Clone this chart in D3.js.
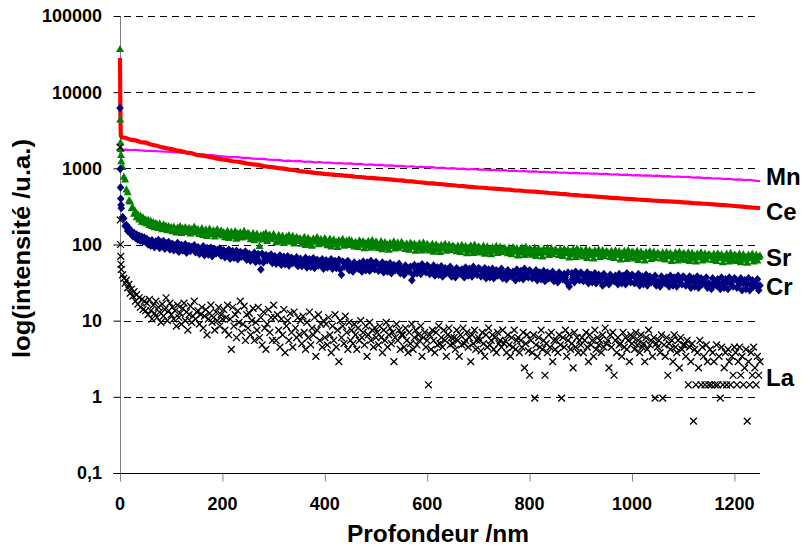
<!DOCTYPE html>
<html><head><meta charset="utf-8">
<script src="https://cdn.jsdelivr.net/npm/d3@7"></script>
<style>
body{margin:0;background:#fff}
text{font-family:"Liberation Sans",Arial,sans-serif;font-weight:bold;fill:#000}
</style>
</head><body>
<svg id="chart" width="804" height="550"></svg>
<script>
// ---------- data ----------
const lineHeadDepths = [0,0.5,1,1.5,2,2.5,3,3.5,4,4.5];
const markerHeadDepths = [0,0.5,1,1.5,2];
const lineStep = 10;     // nm, Mn / Ce body
const markerStep = 2.5;  // nm, Sr / Cr / La body

const mnHead = [1500,1560,1620,1660,1690,1710,1720,1730,1740,1745];
const mnBody = [
1760,1740,1750,1720,1700,1700,1680,1670,1650,1640,
1620,1610,1580,1570,1540,1530,1500,1490,1460,1440,
1420,1400,1400,1370,1370,1340,1330,1330,1300,1290,
1290,1255,1265,1240,1250,1215,1230,1200,1210,1185,
1190,1165,1175,1150,1160,1135,1145,1115,1125,1100,
1110,1085,1095,1070,1080,1055,1065,1040,1050,1030,
1035,1010,1020,995,1005,985,990,970,980,960,
965,950,955,940,945,925,935,915,920,905,
910,895,900,885,890,875,880,865,870,860,
862,850,855,840,845,830,835,820,825,810,
815,800,808,795,800,785,790,775,780,770,
772,755,762,745,750,735,740,725,730,712,
718,700,708,690,680];

const ceHead = [28000,9000,4000,2800,2650,2620,2600,2580,2560,2540];
const ceBody = [
2520,2380,2330,2210,2180,2060,1990,1910,1840,1790,
1720,1680,1610,1580,1500,1470,1430,1390,1340,1310,
1280,1240,1220,1190,1150,1130,1110,1070,1050,1030,
1005,990,960,950,920,905,890,870,860,845,
835,820,815,800,790,775,770,755,750,740,
730,720,712,700,695,680,675,662,652,640,
635,624,618,606,600,590,585,575,568,560,
556,548,542,536,528,524,515,512,504,498,
494,486,482,474,470,462,458,450,446,440,
436,430,425,420,415,410,406,402,398,394,
390,386,383,378,375,372,368,365,362,358,
355,350,347,343,340,336,332,328,325,320,
316,312,308,304,300];

const srHead = [37000,4400,2200,1800,1500];
const srBody = [
1250,1050,780,720,530,490,380,370,300,305,255,275,230,250,215,240,200,228,195,215,
190,212,182,205,176,198,170,192,185,166,190,172,160,184,168,178,155,175,162,170,
150,172,160,145,168,155,175,142,163,150,170,147,158,166,140,161,153,172,145,157,
160,138,152,165,134,148,158,130,150,162,137,145,155,128,149,160,136,143,154,132,
146,125,140,152,122,137,148,128,133,150,120,141,130,146,124,138,151,127,135,143,
137,118,131,142,114,128,139,121,96,133,117,136,124,143,112,129,135,119,127,138,
128,108,124,134,111,120,131,105,118,127,113,133,109,122,130,104,119,126,112,121,
120,103,116,126,99,112,123,106,114,97,121,109,117,125,101,113,119,104,110,122,
114,98,111,120,95,107,117,101,109,93,115,104,112,119,97,106,113,99,116,102,
113,104,95,109,102,93,114,108,100,111,90,105,97,112,103,91,115,106,94,110,
105,90,102,111,87,99,108,93,101,86,106,96,104,110,89,98,107,91,100,109,
101,97,88,104,95,86,106,100,93,103,83,98,90,105,96,84,107,99,87,102,
98,84,95,103,81,92,101,87,94,80,99,89,96,102,83,91,100,85,93,97,
94,90,82,97,88,80,99,93,86,96,77,91,84,98,89,78,100,92,81,95,
92,79,89,97,76,86,95,81,88,75,93,83,90,96,78,85,94,80,87,91,
88,84,77,91,82,75,93,87,81,90,72,85,79,92,83,73,94,86,76,89,
87,74,84,91,71,81,89,77,83,70,88,79,85,90,73,80,89,75,82,86,
84,80,73,87,78,71,88,83,77,86,68,81,75,87,79,69,89,82,72,85,
83,70,80,87,67,77,85,73,79,66,84,75,81,86,69,76,85,71,78,82,
80,76,69,83,74,67,84,79,73,82,64,77,71,83,75,65,85,78,68,81,
79,66,76,83,63,73,81,69,75,62,80,71,77,82,65,72,81,67,74,78,
76,72,66,79,71,64,80,75,70,78,61,73,68,79,72,62,81,74,65,77,
76,63,73,79,61,70,78,66,72,60,77,68,74,79,62,69,77,64,71,75,
73,70,63,76,68,61,77,72,67,75,59,70,65,76,69,60,78,71,62,74,
73,61,70,76,59,68,75,64,69,58,74,66,71,76,60,67,74,62,69,72];

const crHead = [6200,980,560,400,330];
const crBody = [
300,230,220,175,180,150,165,140,150,128,142,122,135,115,130,112,127,110,124,108,
118,100,112,96,114,103,92,110,99,115,90,107,97,111,88,104,95,108,86,100,
102,84,97,89,105,80,94,99,83,92,101,78,90,96,82,93,88,98,79,87,
92,75,86,80,95,72,84,90,74,83,91,70,81,87,76,85,79,89,71,78,
84,68,78,73,86,65,76,82,67,75,83,64,74,80,69,77,71,81,63,72,
76,61,71,66,78,59,69,75,60,47,76,58,67,73,62,70,64,74,57,65,
70,56,65,61,72,54,63,69,55,62,70,53,61,67,57,64,59,68,52,60,
65,52,61,57,67,50,59,64,51,58,66,49,57,63,53,60,55,64,48,56,
62,50,58,54,64,48,56,61,49,55,63,47,40,60,51,57,52,61,46,53,
50,44,58,50,54,48,57,51,44,60,52,46,58,53,45,61,51,55,47,59,
56,45,53,49,58,43,51,55,44,50,57,42,49,54,46,52,47,56,42,48,
46,40,53,45,49,44,51,34,40,54,47,42,52,48,41,55,46,50,43,53,
51,41,48,44,53,39,46,50,40,45,52,38,45,49,42,47,43,51,38,44,
42,37,49,42,45,41,47,43,37,50,44,39,48,44,38,51,43,46,40,49,
48,38,45,41,49,36,43,47,37,42,48,36,42,46,39,44,40,48,36,41,
40,35,46,39,42,38,44,40,34,47,41,36,45,41,35,48,40,43,37,46,
44,36,41,38,46,34,40,43,35,39,45,33,38,43,36,41,37,44,33,38,
37,32,43,36,39,35,41,37,32,43,28,33,42,38,32,44,37,40,34,43,
41,33,38,36,43,31,37,40,32,36,42,31,36,40,34,38,29,41,31,35,
34,30,40,34,37,33,39,35,30,41,35,31,39,36,30,42,35,37,32,40,
39,31,36,34,41,29,35,38,30,34,40,29,34,38,32,36,33,39,29,33,
32,28,38,32,35,31,37,33,28,39,33,29,37,34,28,39,33,35,30,38,
37,29,34,32,38,27,33,36,28,32,38,27,32,36,30,34,31,37,27,31,
30,26,36,30,33,29,35,31,26,37,31,27,35,32,26,37,31,33,28,36,
35,27,32,30,36,25,31,34,26,30,36,25,30,34,28,32,29,35,25,29];

const laHead = [1900,210,100,70,55];
const laBody = [
47,40,36,31,34,27,30,23,26,21,24,18,22,16.5,20,15,19,14,18,13.5,
17,12,19,13.5,10.5,16,12.5,18,11,15,13,9.5,16.5,11.5,14,20,10,13.5,17,12,
15,10.5,13.5,8.5,16,11,12.5,9,14.5,17,10,13,7.5,12,15.5,9.5,11.5,18,10.5,13,
13.5,9,12,15,8,11.5,14,6.5,10.5,12.5,16,9.5,11,7.5,13,10,15,8.5,12,10.5,
14,7.5,11,16,6.5,10.5,4.2,15,8.5,12,6,13.5,9.5,18,7,9,15.5,5.5,12,8,
12.5,6.5,10,14.5,5.5,9.5,7.5,15,6,11,4.8,13,8,4.2,9,14,7,11,5.5,16,
11,5.5,12,7.5,4.5,10.5,6.5,14,3.8,8.5,10,5.5,12.5,7,4.5,13,8,6,11,6.5,
10,5,11.5,7,4.2,9.5,6,13,4.8,8,6.5,11,3.4,7.5,12,5.5,9,4.5,10,6,
9,4.8,11,6.5,3.8,8.5,5.5,12,4.5,7.5,2.9,10,6,8.5,5,11.5,7,4.2,9.5,5.5,
7.5,5,9,6.5,4.2,8,5.5,10,6,7,4.8,8.5,3.4,6.5,9.5,5.5,7.5,4.5,8,6,
7,4.8,8.5,6,3.8,7.5,5.5,9.5,4.5,6.5,8,5,7,2.9,6,9,5.5,7.5,4.2,6.5,
6.5,4.5,8,5.5,3.8,7,5,9,4.2,6,7.5,4.8,6.5,5.5,8.5,3.4,6,7,4.5,5.5,
1.44,6.5,4.2,7.5,5.5,3.8,7,4.8,8.5,5,6,4.5,7.5,5.5,3.4,6.5,8,4.8,6,5,
6,4.2,7.5,5.5,3.4,6.5,4.8,8,5,5.5,7,4.5,6,2.9,6.5,5,7.5,4.2,5.5,6,
5.5,4,7,5,3.4,6.5,4.5,8,4.8,5.5,6.5,4.2,6,3.8,7,5,5.5,4.5,7.5,5,
5.5,3.8,6.5,4.8,3.4,6,4.5,7.5,4.2,5.5,6,3.8,5.5,4.5,7,2.4,5,6.5,4,1.92,
5.5,3.8,6.5,0.96,4.8,3.4,6,4.5,7.5,4.2,5.5,1.92,5,3.8,6.5,4.5,7,2.9,5.5,4.2,
5.5,3.8,6.5,4.8,0.96,6,4.5,7.5,3.4,5.5,6.5,4.2,5,2.4,7,4.5,6,3.8,5.5,4.8,
6,3.8,5.5,7,4.5,2.9,6.5,4.8,5.5,3.4,7.5,4.2,6,4.8,5.5,3.8,6.5,4.5,8,5,
5.5,2.4,6.5,4.5,7,1.92,5.5,3.8,6,4.8,5,3.4,7,4.5,6,4.2,5.5,2.9,6.5,5,
6,4.2,7,4.8,5.5,3.8,6.5,4.5,5,2.9,6,4.2,7.5,4.8,5.5,3.4,6,0.96,5,4.5,
5.5,3.8,6.5,0.96,4.8,3.4,6,1.92,5,4.2,5.5,2.9,6.5,4.5,3.8,5.5,2.4,6,4.2,4.8,
4.8,3.4,5.5,1.44,4.5,2.9,5,0.48,4.2,1.44,3.8,2.4,5.5,1.44,4.5,3.4,1.44,4.8,2.9,1.44,
4.2,1.44,3.8,2.9,1.44,4.8,1.44,3.4,0.96,4.5,1.44,2.4,3.8,1.44,4.2,2.9,1.44,3.4,1.92,4.5,
3.8,1.44,2.9,4.5,1.92,3.4,1.44,2.4,4.2,0.48,2.9,1.44,3.8,1.92,4.5,2.4,1.44,3.4,1.92,2.9];

const seriesNames = ["Mn","Ce","Sr","Cr","La"];
const labelValues = [785, 268, 67, 27.6, 1.8];   // where each name sits on the y scale
const yTickValues = [0.1,1,10,100,1000,10000,100000];
const yTickLabels = ["0,1","1","10","100","1000","10000","100000"];
const xTickValues = [0,200,400,600,800,1000,1200];
const xTitle = "Profondeur /nm";
const yTitle = "log(intensité /u.a.)";

// ---------- build ----------
function build(headDepths, head, body, step){
  const pts = head.map((v,i)=>({d:headDepths[i], v}));
  body.forEach((v,i)=>pts.push({d:step*(i+1), v}));
  return pts;
}
const mn = build(lineHeadDepths, mnHead, mnBody, lineStep);
const ce = build(lineHeadDepths, ceHead, ceBody, lineStep);
const sr = build(markerHeadDepths, srHead, srBody, markerStep);
const cr = build(markerHeadDepths, crHead, crBody, markerStep);
const la = build(markerHeadDepths, laHead, laBody, markerStep);

const svg = d3.select("#chart");
const x = d3.scaleLinear().domain([0,1250]).range([120,760]);
const y = d3.scaleLog().domain([0.1,100000]).range([473,16]);

// gridlines
svg.append("g").selectAll("line").data(yTickValues.filter(v=>v>0.1)).join("line")
  .attr("x1",x(0)+1).attr("x2",757)
  .attr("y1",d=>Math.round(y(d))+0.5).attr("y2",d=>Math.round(y(d))+0.5)
  .attr("stroke","#000").attr("stroke-width",1).attr("stroke-dasharray","7,5")
  .attr("stroke-dashoffset",-3);

// x axis
const xAxis = svg.append("g").attr("transform","translate(0,473.5)")
  .call(d3.axisBottom(x).tickValues(xTickValues).tickSize(8).tickFormat(""));
xAxis.select(".domain").attr("stroke","#000").attr("d","M113,0H760");
xAxis.selectAll(".tick line").attr("stroke","#808080");
svg.append("g").selectAll("text").data(xTickValues).join("text")
  .attr("x",d=>x(d)).attr("y",510).attr("text-anchor","middle")
  .style("font-size","18px").text(d=>d);

// y axis
const yAxis = svg.append("g").attr("transform","translate(120.5,0)")
  .call(d3.axisLeft(y).tickValues(yTickValues).tickSize(7).tickFormat(""));
yAxis.select(".domain").attr("stroke","#808080").attr("d","M0,16V481");
yAxis.selectAll(".tick line").attr("stroke","#000");
svg.append("g").selectAll("text").data(yTickValues).join("text")
  .attr("x",102).attr("y",d=>y(d)).attr("dy","0.36em").attr("text-anchor","end")
  .style("font-size","18px").text((d,i)=>yTickLabels[i]);

// titles
svg.append("text").attr("x",438).attr("y",542).attr("text-anchor","middle")
  .attr("textLength",182).attr("lengthAdjust","spacingAndGlyphs")
  .style("font-size","24px").text(xTitle);
svg.append("text").attr("transform","translate(30,248.5) rotate(-90)")
  .attr("text-anchor","middle").attr("textLength",219).attr("lengthAdjust","spacingAndGlyphs")
  .style("font-size","24px").text(yTitle);

// lines
const line = d3.line().x(d=>x(d.d)).y(d=>y(d.v));
svg.append("path").datum(mn).attr("d",line).attr("fill","none")
  .attr("stroke","#FF00FF").attr("stroke-width",2.2).attr("stroke-linejoin","round");
svg.append("path").datum(ce).attr("d",line).attr("fill","none")
  .attr("stroke","#FF0000").attr("stroke-width",4.2).attr("stroke-linejoin","round");

// markers
const triPath = "M0,-4L4,3.2L-4,3.2Z";
const diaPath = "M0,-4.2L3.8,0L0,4.2L-3.8,0Z";
const xPath = "M-3.4,-3.4L3.4,3.4M3.4,-3.4L-3.4,3.4";
svg.append("g").selectAll("path").data(sr).join("path")
  .attr("transform",d=>`translate(${x(d.d)},${y(d.v)})`).attr("d",triPath).attr("fill","#008000");
svg.append("g").selectAll("path").data(cr).join("path")
  .attr("transform",d=>`translate(${x(d.d)},${y(d.v)})`).attr("d",diaPath).attr("fill","#000080");
svg.append("g").selectAll("path").data(la).join("path")
  .attr("transform",d=>`translate(${x(d.d)},${y(d.v)})`).attr("d",xPath)
  .attr("fill","none").attr("stroke","#000").attr("stroke-width",1.3);

// series names
svg.append("g").selectAll("text").data(seriesNames).join("text")
  .attr("x",766).attr("y",(d,i)=>y(labelValues[i])).attr("dy","0.35em")
  .style("font-size","24px").text(d=>d);
</script>
</body></html>
